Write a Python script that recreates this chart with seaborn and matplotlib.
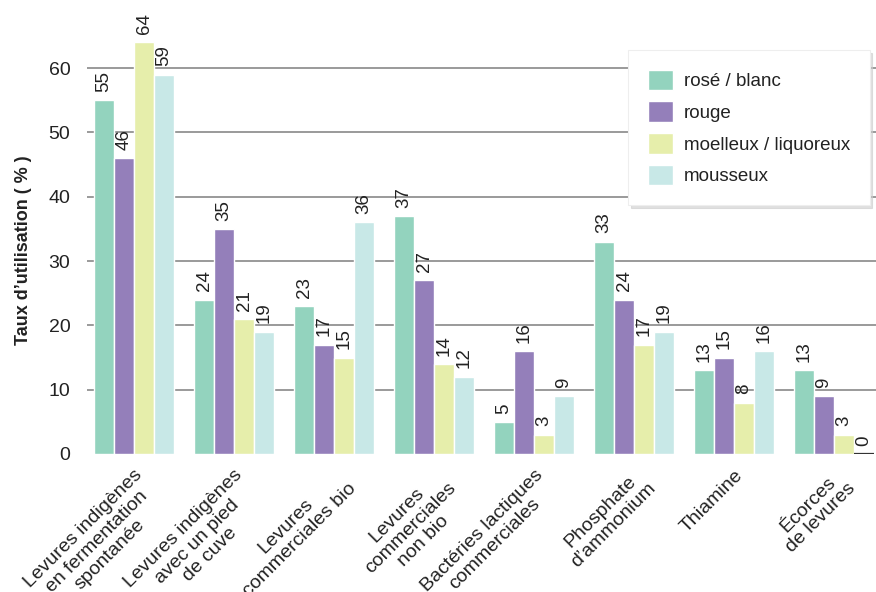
import matplotlib
matplotlib.use("Agg")
import matplotlib.pyplot as plt
import seaborn as sns
import pandas as pd

# Utilisation rates (%) of fermentation inputs by wine type
categories = [
    "Levures indigènes\nen fermentation\nspontanée",
    "Levures indigènes\navec un pied\nde cuve",
    "Levures\ncommerciales bio",
    "Levures\ncommerciales\nnon bio",
    "Bactéries lactiques\ncommerciales",
    "Phosphate\nd’ammonium",
    "Thiamine",
    "Écorces\nde levures",
]
series = ["rosé / blanc", "rouge", "moelleux / liquoreux", "mousseux"]
rose_blanc = [55, 24, 23, 37, 5, 33, 13, 13]
rouge = [46, 35, 17, 27, 16, 24, 15, 9]
moelleux = [64, 21, 15, 14, 3, 17, 8, 3]
mousseux = [59, 19, 36, 12, 9, 19, 16, 0]
y_ticks = [0, 10, 20, 30, 40, 50, 60]

colors = ["#93d3be", "#947fba", "#e6eeab", "#c8e8e7"]

rows = []
for name, vals in zip(series, [rose_blanc, rouge, moelleux, mousseux]):
    for cat, v in zip(categories, vals):
        rows.append({"cat": cat, "type": name, "val": v})
df = pd.DataFrame(rows)

sns.set_style("white")
plt.rcParams["font.family"] = ["Liberation Sans", "DejaVu Sans"]

fig = plt.figure(figsize=(8.76, 5.92), dpi=100)
ax = fig.add_axes([87 / 876, (592 - 454) / 592, (876 - 87) / 876, 454 / 592])

sns.barplot(data=df, x="cat", y="val", hue="type", order=categories,
            hue_order=series, palette=colors, width=0.8, saturation=1,
            edgecolor="white", linewidth=1, ax=ax, zorder=3)

# zero-height bars are shown as a dark baseline stroke
for p in ax.patches:
    if p.get_height() == 0 and p.get_width() > 0:
        p.set_edgecolor("#333333")
        p.set_linewidth(1.6)

for cont in ax.containers:
    ax.bar_label(cont, labels=[f"{int(b.get_height())}" for b in cont],
                 rotation=90, padding=6, fontsize=13.5, color="#222222")

ax.set_ylim(0, 70.6)
ax.set_xlim(-0.47, 7.42)
ax.set_yticks(y_ticks)
ax.set_yticklabels([str(t) for t in y_ticks], fontsize=14, color="#222222")
ax.yaxis.grid(True, color="#9a9a9a", linewidth=1.4, zorder=0)
ax.yaxis.get_gridlines()[0].set_visible(False)
ax.set_axisbelow(True)

ax.set_xticks(range(len(categories)))
ax.set_xticklabels(categories, rotation=45, ha="right", va="top",
                   rotation_mode="anchor", fontsize=14, color="#222222",
                   multialignment="center", linespacing=1.12)
ax.tick_params(axis="x", length=0, pad=9)
ax.tick_params(axis="y", length=0, pad=12)
ax.set_xlabel("")
ax.set_ylabel("Taux d’utilisation ( % )", fontsize=13, fontweight="bold",
              color="#222222")
ax.yaxis.set_label_coords(-0.07, 0.45)
for s in ax.spines.values():
    s.set_visible(False)

handles, labels = ax.get_legend_handles_labels()
leg = ax.legend(handles, labels, loc="upper right", bbox_to_anchor=(0.992, 0.89),
                fontsize=13.5, frameon=True, fancybox=False, handlelength=1.3,
                handleheight=1.3, labelspacing=0.6, borderpad=1.05,
                handletextpad=0.6, borderaxespad=0,
                shadow={"color": "#cccccc", "alpha": 0.6})
leg.get_frame().set_edgecolor("#eeeeee")
leg.get_frame().set_linewidth(0.8)
leg.set_zorder(10)
for t in leg.get_texts():
    t.set_color("#222222")

fig.savefig("out.png", dpi=100, facecolor="white")
